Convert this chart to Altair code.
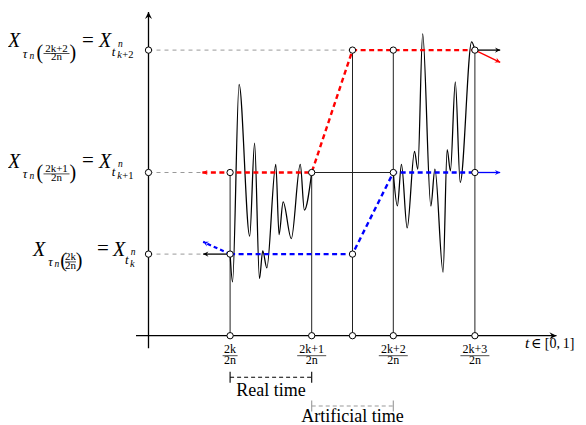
import math
import altair as alt
import pandas as pd

# ---------------- values ----------------
# horizontal unit = one step 1/(2n); t=1 is 2k/2n, t=2 is (2k+1)/2n ...
tick_pos = [1, 2, 3, 4]
tick_num = ["2k", "2k+1", "2k+2", "2k+3"]
tick_den = "2n"
mid_pos = 2.5                      # extra node between 2k+1 and 2k+2
level_val = [1.0, 2.0, 3.5]        # X at t_k, t_{k+1}, t_{k+2}
level_frac = ["2k", "2k+1", "2k+2"]
level_sub = ["k", "k+1", "k+2"]

# the rough sample path (black)
path_a_t = [1.00, 1.03, 1.11, 1.24, 1.30, 1.36, 1.40, 1.45, 1.56, 1.60, 1.65, 1.75, 1.86, 1.91, 2.00]
path_a_v = [1.00, 0.66, 3.08, 1.22, 2.36, 0.70, 1.04, 0.83, 2.10, 1.24, 1.64, 1.19, 2.10, 1.54, 2.00]
path_b_t = [3.00, 3.05, 3.10, 3.17, 3.26, 3.30, 3.36, 3.46, 3.51, 3.61, 3.66, 3.70, 3.76, 3.82, 3.96, 4.00]
path_b_v = [2.00, 1.59, 2.10, 1.32, 2.26, 2.04, 3.70, 1.59, 2.04, 0.78, 2.28, 2.02, 3.11, 1.88, 3.60, 3.50]

# red and blue dashed piecewise paths
red_t = [0.66, 2.0, 2.5, 4.0]
red_v = [2.0, 2.0, 3.5, 3.5]
blue_t = [1.0, 2.5, 3.0, 4.0]
blue_v = [1.0, 1.0, 2.0, 2.0]

# vertical guides
vert_t = [1, 2, 2.5, 3, 4]
vert_top = [2.0, 2.0, 3.5, 3.5, 3.5]

# open nodes
node_t = [0, 0, 0, 1, 2, 2.5, 3, 4, 1, 1, 2, 2.5, 2.5, 3, 3, 4, 4]
node_v = [1, 2, 3.5, 0, 0, 0, 0, 0, 1, 2, 2, 1, 3.5, 2, 3.5, 2, 3.5]

# grey dashed guides from the vertical axis
guide_end = [0.67, 0.66, 2.5]

# arrows: start, tip, colour, dashed
arr_t0 = [-0.153, 0.0, 1.0, 4.0, 4.0, 4.0, 1.0]
arr_v0 = [0.0, -0.154, 1.0, 3.5, 2.0, 3.5, 1.0]
arr_t1 = [5.0, 0.0, 0.67, 4.31, 4.31, 4.31, 0.67]
arr_v1 = [0.0, 3.967, 1.0, 3.5, 2.0, 3.35, 1.15]
arr_col = ["black", "black", "black", "black", "#0000ff", "#ff0000", "#0000ff"]
arr_dash = [False, False, False, False, False, False, True]
arr_big = [True, True, False, False, False, False, False]

# ---------------- layout ----------------
UNIT = 81.6
AX, AY = 148.5, 335.7
W, H = 570, 417
xmin = (8 - AX) / UNIT
xmax = xmin + W / UNIT
ymax = (AY - 8) / UNIT
ymin = ymax - H / UNIT
xs = alt.Scale(domain=[xmin, xmax], nice=False, zero=False)
ys = alt.Scale(domain=[ymin, ymax], nice=False, zero=False)
FONT = "Liberation Serif, DejaVu Serif, serif"


def P(px):
    return (px - AX) / UNIT


def Q(py):
    return (AY - py) / UNIT


def enc(ch, x2=False):
    e = dict(x=alt.X("t:Q", scale=xs, axis=None), y=alt.Y("v:Q", scale=ys, axis=None))
    if x2:
        e["x2"] = alt.X2("t2:Q")
        e["y2"] = alt.Y2("v2:Q")
    return ch.encode(**e)


def rules(df, **kw):
    return enc(alt.Chart(df).mark_rule(**kw), True)


layers = []

# vertical guides
vdf = pd.DataFrame(dict(t=vert_t, v=[0] * len(vert_t), t2=vert_t, v2=vert_top))
layers.append(rules(vdf, color="#222", strokeWidth=1))
# solid horizontal at level 2 between 2k+1 and 2k+2
hdf = pd.DataFrame(dict(t=[tick_pos[1]], v=[level_val[1]], t2=[tick_pos[2]], v2=[level_val[1]]))
layers.append(rules(hdf, color="#222", strokeWidth=1))
# grey dashed guides
gdf = pd.DataFrame(dict(t=[0, 0, 0], v=level_val, t2=guide_end, v2=level_val))
layers.append(rules(gdf, color="#999", strokeWidth=1, strokeDash=[4, 4]))

# black sample path
pdf = pd.DataFrame(dict(t=path_a_t + path_b_t, v=path_a_v + path_b_v,
                        g=["a"] * len(path_a_t) + ["b"] * len(path_b_t),
                        i=list(range(len(path_a_t))) + list(range(len(path_b_t)))))
layers.append(enc(alt.Chart(pdf).mark_line(color="black", strokeWidth=1.25, interpolate="monotone"))
              .encode(detail="g:N", order="i:Q"))

# red / blue dashed paths
for tt, vv, col in [(red_t, red_v, "#ff0000"), (blue_t, blue_v, "#0000ff")]:
    d = pd.DataFrame(dict(t=tt, v=vv, i=range(len(tt))))
    layers.append(enc(alt.Chart(d).mark_line(color=col, strokeWidth=2.4, strokeDash=[5, 3.5]))
                  .encode(order="i:Q"))

# arrows
adf = pd.DataFrame(dict(t=arr_t0, v=arr_v0, t2=arr_t1, v2=arr_v1, col=arr_col,
                        dash=arr_dash, big=arr_big))
for col in adf["col"].unique():
    for dash in [False, True]:
        sub = adf[(adf.col == col) & (adf.dash == dash)]
        if len(sub) == 0:
            continue
        kw = dict(color=col, strokeWidth=1.3)
        if dash:
            kw.update(strokeDash=[4, 3], strokeWidth=2.2)
        layers.append(rules(sub, **kw))

# arrow heads (including the red dashed one at the left end of the red path)
head_t = arr_t1 + [red_t[0]]
head_v = arr_v1 + [red_v[0]]
head_dir = [(a1 - a0, b1 - b0) for a0, b0, a1, b1 in zip(arr_t0, arr_v0, arr_t1, arr_v1)] + [(-1, 0)]
head_col = arr_col + ["#ff0000"]
head_big = arr_big + [False]
hd = pd.DataFrame(dict(t=head_t, v=head_v, col=head_col,
                       ang=[(math.degrees(math.atan2(-dv, dt)) + 360) % 360 for dt, dv in head_dir],
                       sz=[200 if b else 110 for b in head_big]))
arrow_shape = "M0,0L-1,-0.5L-0.65,0L-1,0.5Z"
layers.append(enc(alt.Chart(hd).mark_point(shape=arrow_shape, filled=True, opacity=1, strokeWidth=0))
              .encode(color=alt.Color("col:N", scale=None),
                      angle=alt.Angle("ang:Q", scale=None),
                      size=alt.Size("sz:Q", scale=None)))

# open nodes
ndf = pd.DataFrame(dict(t=node_t, v=node_v))
layers.append(enc(alt.Chart(ndf).mark_point(shape="circle", fill="white", fillOpacity=1, stroke="black",
                                            strokeWidth=1, size=40, opacity=1)))

# ---------------- text ----------------
texts = []   # t, v, text, size, italic, align
bars = []    # t, v, t2, v2


def add(text, x, y, size, italic, align="left"):
    texts.append(dict(t=P(x), v=Q(y), text=text, size=size, it=italic, al=align))


lay_A = dict(X1=8, tau=22.7, n1=29.5, lp=36.5, fc=56.5, fw=13, rp=69.5, eq=82, X2=99, tt=111.7, n2=118, sub=117.3)
lay_B = dict(X1=33, tau=48.3, n1=54.6, lp=60.3, fc=70.5, fw=5.5, rp=75.8, eq=97, X2=113, tt=125, n2=130.7, sub=130)
label_base = [255.7, 167.7, 47.3]
label_lay = [lay_B, lay_A, lay_A]
for base, frac, sb, L in zip(label_base, level_frac, level_sub, label_lay):
    add("X", L["X1"], base, 20, True)
    add("τ", L["tau"], base + 10.7, 12.5, True)
    add("n", L["n1"], base + 11.5, 9.5, True)
    add("(", L["lp"], base + 11.5, 20, False)
    add(frac, L["fc"], base + 4.5, 11, False, "center")
    add(tick_den, L["fc"], base + 12.8, 11, False, "center")
    bars.append(dict(t=P(L["fc"] - L["fw"]), v=Q(base + 6.2), t2=P(L["fc"] + L["fw"]), v2=Q(base + 6.2)))
    add(")", L["rp"], base + 11.5, 20, False)
    add("=", L["eq"], base - 0.5, 21, False)
    add("X", L["X2"], base, 20, True)
    add("t", L["tt"], base + 8.7, 13, True)
    add("n", L["n2"], base - 0.8, 9.5, True)
    add("k", L["sub"], base + 11, 10.5, True)
    if len(sb) > 1:
        add(sb[1:], L["sub"] + 5, base + 11, 10.5, False)

# tick labels
for tp, num in zip(tick_pos, tick_num):
    cx = AX + tp * UNIT
    add(num, cx, 353.3, 12, False, "center")
    add(tick_den, cx, 364, 12, False, "center")
    hw = 7.5 if len(num) <= 2 else 14.5
    bars.append(dict(t=P(cx - hw), v=Q(355.7), t2=P(cx + hw), v2=Q(355.7)))

add("t", 525, 348.3, 15.5, True)
add("∈ [0,\u20091]", 531, 348.3, 14, False)
add("Real time", 271, 396, 18, False, "center")
add("Artificial time", 352.5, 422.3, 18, False, "center")

tdf = pd.DataFrame(texts)
for it in [True, False]:
    for al in ["left", "center"]:
        sub = tdf[(tdf.it == it) & (tdf.al == al)]
        if len(sub) == 0:
            continue
        mk = dict(align=al, baseline="alphabetic", font=FONT, color="black")
        if it:
            mk["fontStyle"] = "italic"
        layers.append(enc(alt.Chart(sub).mark_text(**mk))
                      .encode(text="text:N", size=alt.Size("size:Q", scale=None)))

layers.append(rules(pd.DataFrame(bars), color="black", strokeWidth=0.7))

# brackets (real time / artificial time)
for (a, b), yb, col in [((tick_pos[0], tick_pos[1]), 377.3, "black"), ((tick_pos[1], tick_pos[2]), 406, "#999")]:
    d1 = pd.DataFrame(dict(t=[a], v=[Q(yb)], t2=[b], v2=[Q(yb)]))
    d2 = pd.DataFrame(dict(t=[a, b], v=[Q(yb - 5.5)] * 2, t2=[a, b], v2=[Q(yb + 5.5)] * 2))
    layers.append(rules(d1, color=col, strokeWidth=1.1, strokeDash=[4, 3]))
    layers.append(rules(d2, color=col, strokeWidth=1.1))

chart = alt.layer(*layers).properties(
    width=W, height=H, padding=0, autosize=alt.AutoSizeParams(type="none"), background="white"
).configure_view(stroke=None)

chart.save("out.html", embed_options={"renderer": "svg", "actions": False})
